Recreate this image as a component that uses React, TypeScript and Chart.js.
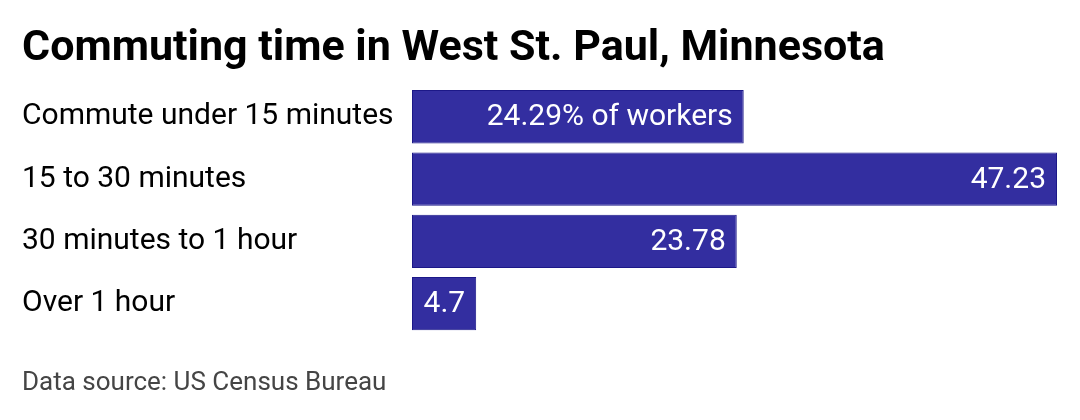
import { useEffect, useRef } from "react"
import { Chart, registerables } from "chart.js"

Chart.register(...registerables)

const categories = [
  "Commute under 15 minutes",
  "15 to 30 minutes",
  "30 minutes to 1 hour",
  "Over 1 hour",
]
const shares = [24.29, 47.23, 23.78, 4.7]

const titleText = "Commuting time in West St. Paul, Minnesota"
const sourceText = "Data source: US Census Bureau"

const FONT = "Roboto, 'Noto Sans', sans-serif"

// draws the value text inside the right end of each bar
const valueLabels = {
  id: "valueLabels",
  afterDatasetsDraw(chart: Chart) {
    const ctx = chart.ctx
    const meta = chart.getDatasetMeta(0)
    ctx.save()
    ctx.font = `400 30px ${FONT}`
    ctx.fillStyle = "#ffffff"
    ctx.textAlign = "right"
    ctx.textBaseline = "middle"
    meta.data.forEach((bar: any, i: number) => {
      const v = shares[i]
      const text = i === 0 ? `${v}% of workers` : `${v}`
      ctx.fillText(text, bar.x - 11, bar.y + 1)
    })
    ctx.restore()
  },
}

export default function App() {
  const chartRef = useRef<HTMLCanvasElement>(null)
  const chartInstance = useRef<Chart | null>(null)

  useEffect(() => {
    if (!chartRef.current) return
    if (chartInstance.current) chartInstance.current.destroy()
    const ctx = chartRef.current.getContext("2d")
    if (!ctx) return

    chartInstance.current = new Chart(ctx, {
      type: "bar",
      data: {
        labels: categories,
        datasets: [
          {
            data: shares,
            backgroundColor: "#332ea0",
            borderColor: "#1c1888",
            borderWidth: 1,
            borderSkipped: false,
            barPercentage: 0.855,
            categoryPercentage: 1,
          },
        ],
      },
      options: {
        indexAxis: "y",
        animation: false,
        responsive: true,
        maintainAspectRatio: false,
        layout: { padding: { left: 22, right: 23, top: 0, bottom: 0 } },
        plugins: {
          legend: { display: false },
          tooltip: { enabled: false },
          title: {
            display: true,
            text: titleText,
            align: "start",
            color: "#000000",
            font: { family: FONT, size: 43, weight: "bold", lineHeight: 1.2 },
            padding: { top: 23, bottom: 11 },
          },
          subtitle: {
            display: true,
            position: "bottom",
            text: sourceText,
            align: "start",
            color: "#454545",
            font: { family: FONT, size: 26, lineHeight: 1.2 },
            padding: { top: 33, bottom: 21 },
          },
        },
        scales: {
          x: {
            display: false,
            min: 0,
            max: 47.23,
          },
          y: {
            grid: { display: false },
            border: { display: false },
            afterFit(scale: any) {
              scale.width = 390
            },
            ticks: {
              crossAlign: "far",
              color: "#000000",
              padding: 0,
              font: { family: FONT, size: 30 },
            },
          },
        },
      },
      plugins: [valueLabels],
    })

    return () => {
      if (chartInstance.current) {
        chartInstance.current.destroy()
        chartInstance.current = null
      }
    }
  }, [])

  return (
    <div style={{ position: "absolute", left: 0, top: 0, width: 1080, height: 420, background: "#ffffff" }}>
      <canvas ref={chartRef}></canvas>
    </div>
  )
}
